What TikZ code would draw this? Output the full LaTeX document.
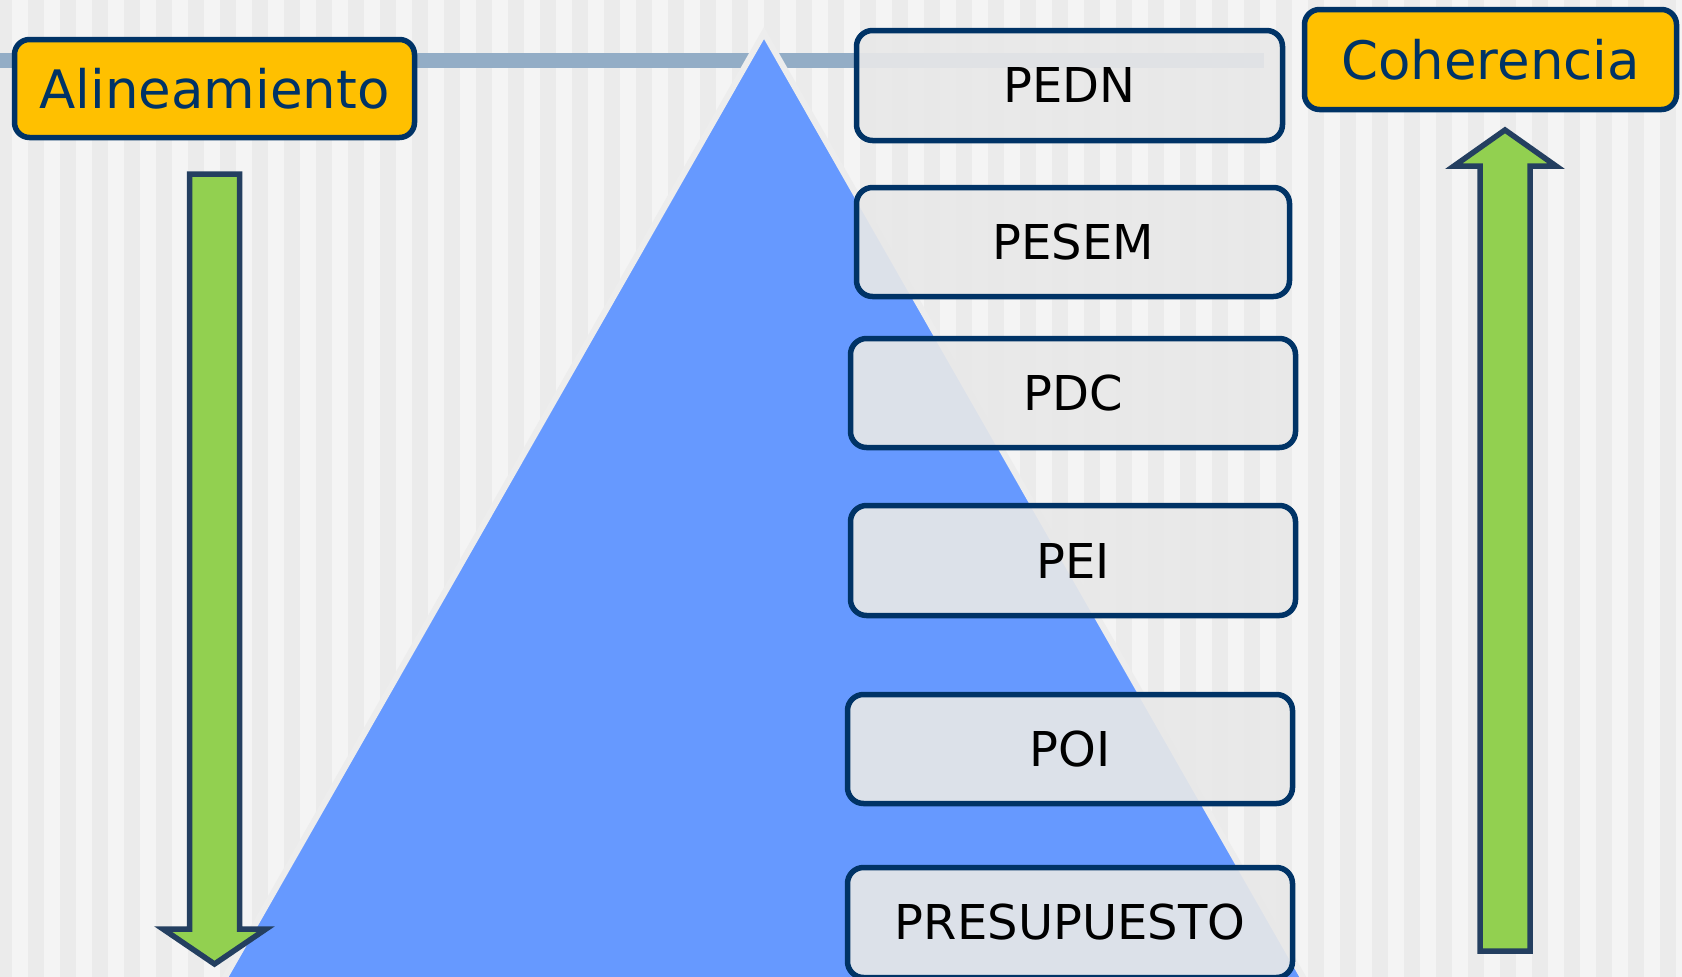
\documentclass[tikz,border=0pt]{standalone}
\usepackage{fontspec}
\setmainfont{DejaVu Sans}
\definecolor{stripeD}{HTML}{EBEBEB}
\definecolor{stripeL}{HTML}{F4F4F4}
\definecolor{navy}{HTML}{003366}
\definecolor{gold}{HTML}{FFC000}
\definecolor{barcol}{HTML}{93ADC6}
\definecolor{triblue}{HTML}{6699FF}
\definecolor{triedge}{HTML}{EDEDED}
\definecolor{boxfill}{HTML}{E8E8E8}
\definecolor{arrgreen}{HTML}{92D050}
\definecolor{arredge}{HTML}{243F60}
\begin{document}
\begin{tikzpicture}[x=1pt,y=-1pt,
  lvl/.style={draw=navy, line width=5.5pt, fill=boxfill, fill opacity=0.915, text opacity=1,
    rounded corners=16pt, inner sep=0pt, text=black, font=\fontsize{48}{58}\selectfont},
  tag/.style={draw=navy, line width=5.5pt, fill=gold, rounded corners=15pt, inner sep=0pt,
    text=navy, font=\fontsize{53}{63}\selectfont},
  bigarrow/.style={draw=arredge, fill=arrgreen, line width=5.5pt, line join=miter}]
\useasboundingbox (0,0) rectangle (1682,977);
\clip (0,0) rectangle (1682,977);
% background stripes
\fill[stripeL] (0,0) rectangle (1682,977);
\foreach \k in {0,...,53} \fill[stripeD] ({-4+32*\k},0) rectangle ++(16,977);
% top bar
\fill[barcol] (0,53) rectangle (1264,68);
% pyramid
\filldraw[fill=triblue, draw=triedge, line width=6pt] (764,33) -- (155,1100) -- (1373,1100) -- cycle;
% arrows
\draw[bigarrow] (189.5,174) -- (239.5,174) -- (239.5,929) -- (266,929) -- (214.5,964)
  -- (163,929) -- (189.5,929) -- cycle;
\draw[bigarrow] (1480,951) -- (1530,951) -- (1530,166) -- (1556,166) -- (1505,130)
  -- (1454,166) -- (1480,166) -- cycle;
% labels
\node[tag, minimum width=400pt, minimum height=98pt] (alin) at (214.5,88.5) {Alineamiento};
\node[tag, minimum width=372pt, minimum height=100pt] (coh) at (1490.5,59.5) {Coherencia};
% levels
\node[lvl, minimum width=426pt, minimum height=110pt] (pedn) at (1069.5,85.5) {PEDN};
\node[lvl, minimum width=433pt, minimum height=109pt] (pesem) at (1073,242) {PESEM};
\node[lvl, minimum width=445pt, minimum height=109pt] (pdc) at (1073,393) {PDC};
\node[lvl, minimum width=445pt, minimum height=110pt] (pei) at (1073,560.5) {PEI};
\node[lvl, minimum width=445pt, minimum height=109pt] (poi) at (1070,749) {POI};
\node[lvl, minimum width=445pt, minimum height=110pt] (pres) at (1070,922.5) {PRESUPUESTO};
\end{tikzpicture}
\end{document}
